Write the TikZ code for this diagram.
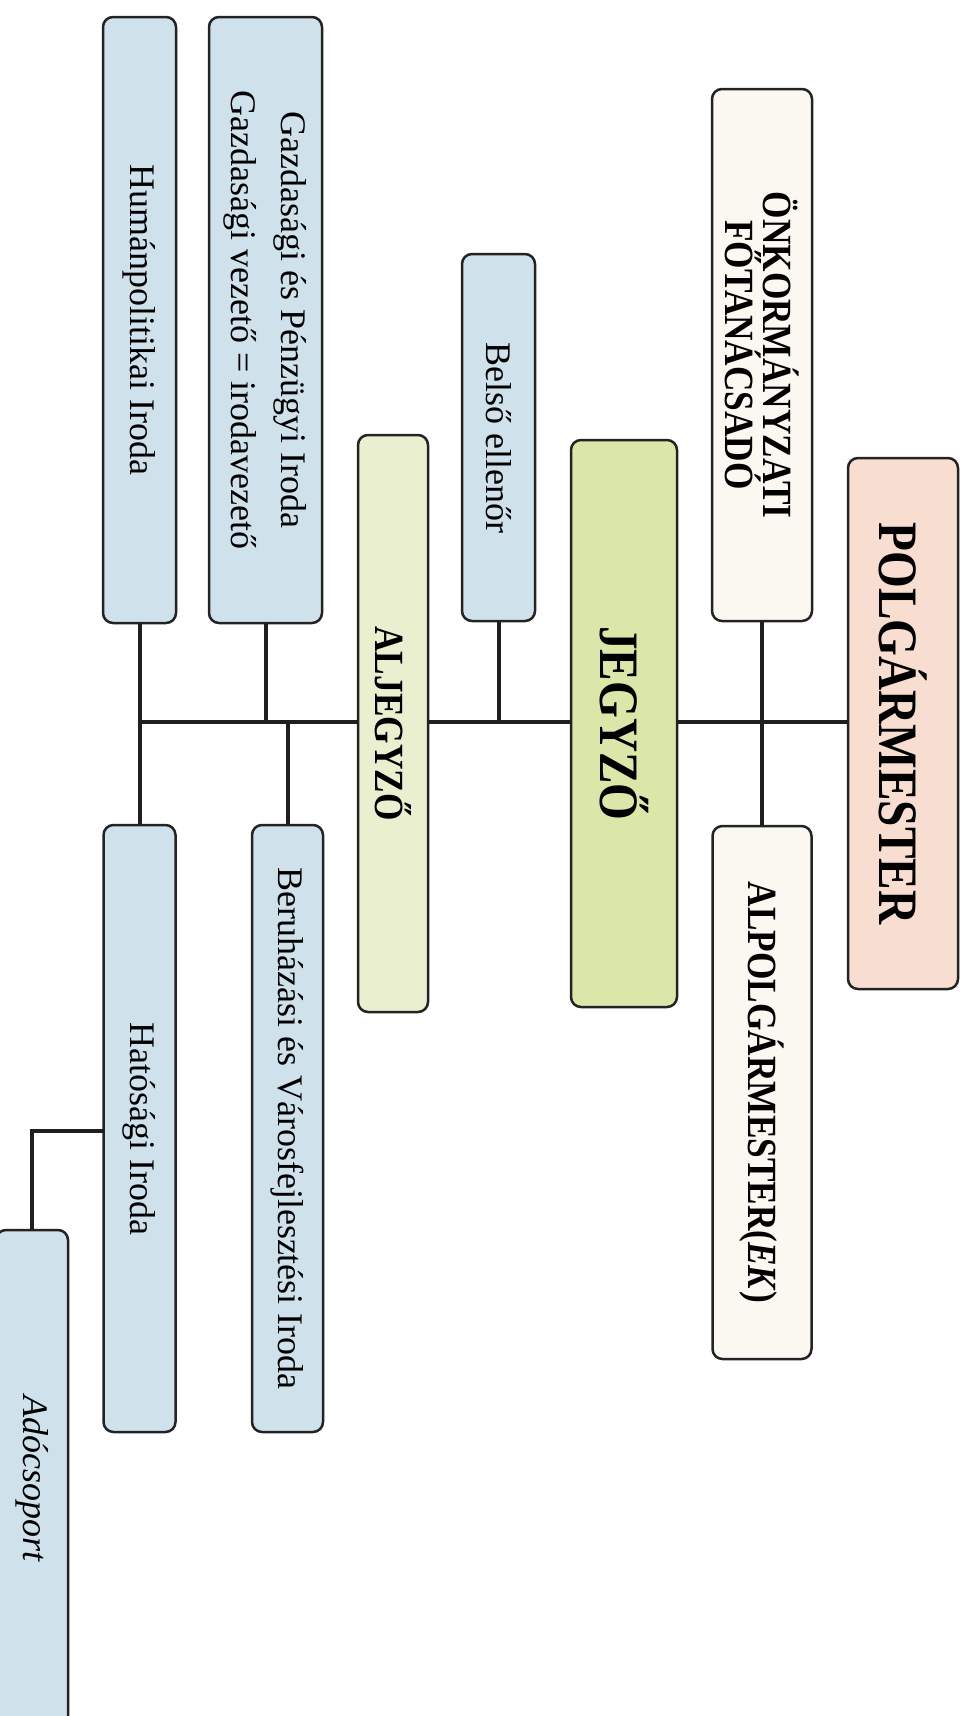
\documentclass[tikz,border=0pt]{standalone}
\usepackage{fontspec}
\setmainfont{Liberation Serif}
\newfontfamily\narrowserif{Liberation Serif}[FakeStretch=0.85]

\definecolor{deptblue}{RGB}{207,226,236}
\definecolor{deputygreen}{RGB}{234,239,207}
\definecolor{clerkgreen}{RGB}{219,231,168}
\definecolor{advisorcream}{RGB}{250,248,241}
\definecolor{mayorpeach}{RGB}{247,222,208}
\definecolor{frameline}{RGB}{35,35,35}

\begin{document}
\begin{tikzpicture}[
  x=1pt, y=-1pt,
  orgbox/.style={draw=frameline, line width=2.5pt, rounded corners=10pt, rotate=-90,
                 inner sep=0pt, outer sep=0pt, align=center},
  office/.style={orgbox, fill=deptblue, font=\fontsize{36}{50}\selectfont},
  lead/.style={orgbox, font=\narrowserif\bfseries\fontsize{41.5}{38}\selectfont},
  chief/.style={orgbox, font=\narrowserif\bfseries\fontsize{55.6}{60}\selectfont},
  link/.style={line width=4pt, draw=black!88},
]
  \useasboundingbox (0,0) rectangle (968,1716);

  % Mayor and advisers
  \node[chief, fill=mayorpeach, minimum width=531pt, minimum height=110pt]
    (polg) at (903,723.5) {POLGÁRMESTER};
  \node[lead, fill=advisorcream, minimum width=532pt, minimum height=100pt]
    (onkorm) at (762,355) {ÖNKORMÁNYZATI\\FŐTANÁCSADÓ};
  \node[lead, fill=advisorcream, minimum width=533pt, minimum height=99pt]
    (alpolg) at (762,1092.5) {ALPOLGÁRMESTER(\textit{EK})};

  % Clerk and deputy clerk
  \node[chief, fill=clerkgreen, minimum width=567pt, minimum height=106pt]
    (jegyzo) at (624,723.5) {JEGYZŐ};
  \node[office, minimum width=367pt, minimum height=73pt]
    (belso) at (498.5,437.5) {Belső ellenőr};
  \node[lead, fill=deputygreen, minimum width=577pt, minimum height=70pt]
    (aljegyzo) at (393,723.5) {ALJEGYZŐ};

  % Offices
  \node[office, minimum width=606pt, minimum height=113pt]
    (gazd) at (265.5,320) {Gazdasági és Pénzügyi Iroda\\Gazdasági vezető = irodavezető};
  \node[office, minimum width=606pt, minimum height=73pt]
    (human) at (139.5,320) {Humánpolitikai Iroda};
  \node[office, minimum width=607pt, minimum height=71pt]
    (beruh) at (287.5,1128.5) {Beruházási és Városfejlesztési Iroda};
  \node[office, minimum width=607pt, minimum height=72pt]
    (hatosagi) at (139.5,1128.5) {Hatósági Iroda};
  \node[office, minimum width=498pt, minimum height=72pt]
    (ado) at (32,1479) {\textit{Adócsoport}};

  % Connectors
  \coordinate (bus) at (0,722);
  \coordinate (taxjoin) at (0,1131);
  \draw[link] (jegyzo.north |- bus) -- (polg.south |- bus);
  \draw[link] (aljegyzo.north |- bus) -- (jegyzo.south |- bus);
  \draw[link] (human.east |- bus) -- (aljegyzo.south |- bus);
  \draw[link] (onkorm.east) -- (alpolg.west);
  \draw[link] (belso.east) -- (belso.east |- bus);
  \draw[link] (gazd.east) -- (gazd.east |- bus);
  \draw[link] (beruh.west) -- (beruh.west |- bus);
  \draw[link] (human.east) -- (hatosagi.west);
  \draw[link] (hatosagi.south |- taxjoin) -| (ado.west);
\end{tikzpicture}
\end{document}
